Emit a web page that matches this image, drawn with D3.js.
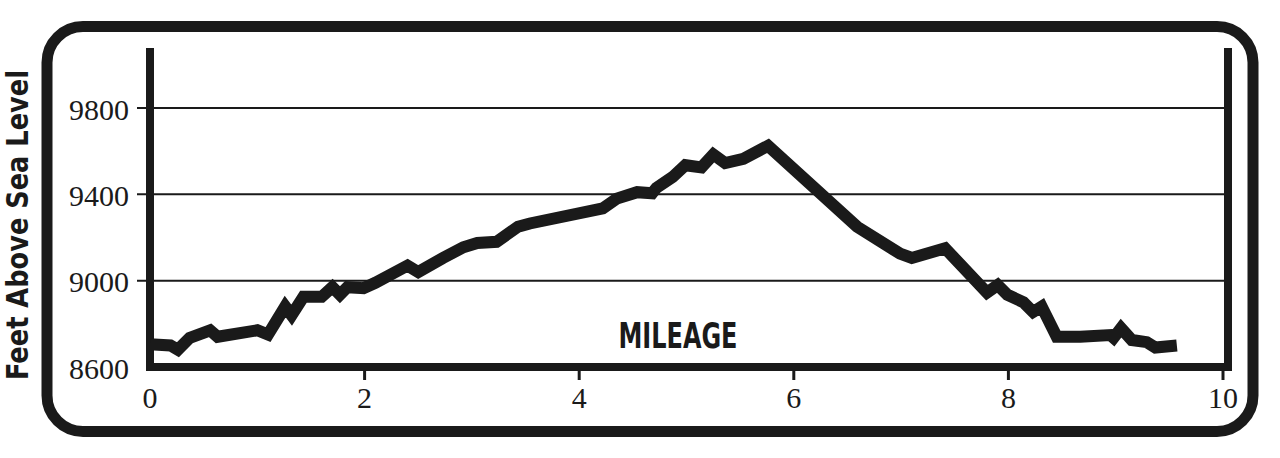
<!DOCTYPE html>
<html>
<head>
<meta charset="utf-8">
<script src="https://cdn.jsdelivr.net/npm/d3@7"></script>
<style>
  html, body { margin: 0; padding: 0; background: #fff; }
  svg { display: block; }
</style>
</head>
<body>
<svg id="chart" width="1280" height="458"></svg>
<script>
// ---- data ----
const mileage = [0, 0.19, 0.26, 0.37, 0.56, 0.63, 1.0, 1.1, 1.26, 1.32, 1.43, 1.6, 1.7, 1.77, 1.84, 1.99, 2.1, 2.4, 2.5, 2.73, 2.92, 3.05, 3.23, 3.43, 3.54, 4.22, 4.35, 4.54, 4.68, 4.72, 4.87, 4.99, 5.14, 5.25, 5.36, 5.53, 5.76, 6.59, 6.99, 7.1, 7.41, 7.8, 7.9, 7.99, 8.14, 8.23, 8.31, 8.45, 8.67, 8.95, 8.98, 9.05, 9.15, 9.29, 9.37, 9.57];
const elevation = [8705, 8700, 8680, 8735, 8770, 8740, 8770, 8750, 8880, 8840, 8925, 8925, 8970, 8935, 8970, 8965, 8990, 9070, 9040, 9105, 9155, 9175, 9180, 9250, 9265, 9335, 9380, 9410, 9405, 9430, 9480, 9535, 9525, 9585, 9545, 9565, 9625, 9250, 9125, 9105, 9150, 8945, 8980, 8935, 8900, 8855, 8880, 8740, 8740, 8748, 8735, 8780, 8725, 8715, 8690, 8700];
const yTicks = [8600, 9000, 9400, 9800];
const xTicks = [0, 2, 4, 6, 8, 10];
const yTitle = "Feet Above Sea Level";
const xTitle = "MILEAGE";

// ---- drawing ----
const ink = "#1a1a1a";
const svg = d3.select("#chart");

const x = d3.scaleLinear().domain([0, 10]).range([150, 1223]);
const y = d3.scaleLinear().domain([8600, 9800]).range([367, 108]);
const yTop = 10078; // top of the plot frame

// outer rounded frame
svg.append("rect")
  .attr("x", 47).attr("y", 26.5)
  .attr("width", 1206).attr("height", 405)
  .attr("rx", 36).attr("ry", 36)
  .attr("fill", "none").attr("stroke", ink).attr("stroke-width", 11);

// gridlines (with stubs left of axis)
svg.append("g").selectAll("line")
  .data(yTicks.filter(d => d > 8600))
  .join("line")
  .attr("x1", 137).attr("x2", 1226)
  .attr("y1", d => y(d)).attr("y2", d => y(d))
  .attr("stroke", ink).attr("stroke-width", 2);

// y tick labels
svg.append("g").selectAll("text")
  .data(yTicks)
  .join("text")
  .attr("x", 129)
  .attr("y", d => y(d) + 1)
  .attr("dy", "0.35em")
  .attr("text-anchor", "end")
  .attr("font-family", "'Liberation Serif', 'DejaVu Serif', serif")
  .attr("font-size", 30)
  .attr("fill", ink)
  .text(d => d);

// x axis ticks
svg.append("g").selectAll("line")
  .data(xTicks.filter(d => d > 0))
  .join("line")
  .attr("x1", d => x(d)).attr("x2", d => x(d))
  .attr("y1", 367).attr("y2", 380)
  .attr("stroke", ink).attr("stroke-width", 3);

svg.append("g").selectAll("text")
  .data(xTicks)
  .join("text")
  .attr("x", d => x(d))
  .attr("y", 408)
  .attr("text-anchor", "middle")
  .attr("font-family", "'Liberation Serif', 'DejaVu Serif', serif")
  .attr("font-size", 30)
  .attr("fill", ink)
  .text(d => d);

// plot frame: left, bottom, right
svg.append("path")
  .attr("d", `M${x(0)},${y(yTop)} L${x(0)},${y(8600)} L1228,${y(8600)} L1228,${y(yTop)}`)
  .attr("fill", "none").attr("stroke", ink).attr("stroke-width", 8)
  .attr("stroke-linejoin", "miter");

// elevation profile
const pts = mileage.map((m, i) => [m, elevation[i]]);
svg.append("path")
  .datum(pts)
  .attr("d", d3.line().x(d => x(d[0])).y(d => y(d[1])))
  .attr("fill", "none").attr("stroke", ink)
  .attr("stroke-width", 12)
  .attr("stroke-linejoin", "miter")
  .attr("stroke-miterlimit", 3)
  .attr("stroke-linecap", "butt");

// x title
svg.append("text")
  .attr("x", 678).attr("y", 348)
  .attr("text-anchor", "middle")
  .attr("font-family", "'DejaVu Sans Condensed', 'DejaVu Sans', sans-serif")
  .attr("font-weight", "bold")
  .attr("font-size", 36)
  .attr("textLength", 119)
  .attr("lengthAdjust", "spacingAndGlyphs")
  .attr("fill", ink)
  .text(xTitle);

// y title
svg.append("text")
  .attr("transform", "translate(28,225) rotate(-90)")
  .attr("text-anchor", "middle")
  .attr("font-family", "'DejaVu Sans Condensed', 'DejaVu Sans', sans-serif")
  .attr("font-weight", "bold")
  .attr("font-size", 30)
  .attr("textLength", 310)
  .attr("lengthAdjust", "spacingAndGlyphs")
  .attr("fill", ink)
  .text(yTitle);
</script>
</body>
</html>
